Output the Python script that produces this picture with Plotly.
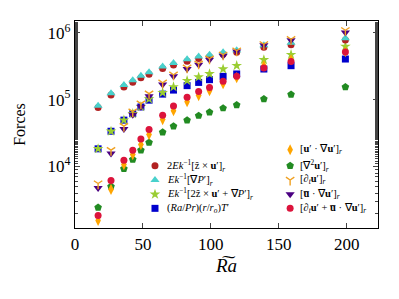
import plotly.graph_objects as go

ra = [17, 26.5, 36, 42.5, 48.5, 54.5, 64.5, 72.5, 82.5, 91, 99, 109, 119, 139, 159, 199]

coriolis = [7.6e4, 1.17e5, 1.54e5, 1.82e5, 2.13e5, 2.40e5, 2.93e5, 3.30e5, 3.75e5, 4.14e5, 4.39e5, 4.78e5, 5.1e5, 6.1e5, 6.6e5, 7.8e5]
pressure = [8.1e4, 1.25e5, 1.65e5, 1.95e5, 2.28e5, 2.57e5, 3.14e5, 3.53e5, 4.02e5, 4.43e5, 4.7e5, 5.1e5, 5.5e5, 6.5e5, 7.1e5, 8.3e5]
ageo = [1.84e4, 3.37e4, 4.94e4, 6.18e4, 7.86e4, 1.02e5, 1.27e5, 1.55e5, 1.92e5, 2.18e5, 2.44e5, 2.87e5, 3.22e5, 3.95e5, 4.7e5, 6.25e5]
buoy = [1.84e4, 3.37e4, 4.94e4, 6.18e4, 7.78e4, 9.83e4, 1.21e5, 1.39e5, 1.62e5, 1.81e5, 1.99e5, 2.23e5, 2.42e5, 2.87e5, 3.22e5, 4.05e5]
nonlin = [1.56e3, 4.54e3, 1.07e4, 1.51e4, 2.13e4, 3.0e4, 5.03e4, 6.85e4, 9.33e4, 1.15e5, 1.36e5, 1.73e5, 2.13e5, 3.22e5, 3.95e5, 5.2e5]
visc = [2.44e3, 5.03e3, 9.27e3, 1.27e4, 1.75e4, 2.28e4, 3.25e4, 4.0e4, 4.91e4, 5.77e4, 6.46e4, 7.47e4, 8.33e4, 1.02e5, 1.19e5, 1.55e5]
dtu = [5.57e3, 1.76e4, 4.02e4, 6.62e4, 8.72e4, 1.23e5, 1.79e5, 2.36e5, 3.0e5, 3.44e5, 4.09e5, 4.69e5, 5.39e5, 6.73e5, 8.0e5, 1.09e6]
meanadv = [4.78e3, 1.56e4, 3.63e4, 5.97e4, 7.86e4, 1.12e5, 1.68e5, 2.23e5, 2.87e5, 3.33e5, 3.95e5, 4.54e5, 5.26e5, 6.51e5, 7.73e5, 1.01e6]
inertia = [1.86e3, 6.18e3, 1.24e4, 1.75e4, 2.59e4, 3.57e4, 5.87e4, 8.05e4, 1.09e5, 1.32e5, 1.52e5, 1.88e5, 2.23e5, 2.97e5, 3.73e5, 5.15e5]

ytick_vals = [1e4, 1e5, 1e6]
ytick_text = ["10<sup>4</sup>", "10<sup>5</sup>", "10<sup>6</sup>"]
xtick_vals = [0, 50, 100, 150, 200]

R = "<sub><i>r</i></sub>"
U = "<b>u</b>′"
UBAR = "<b>u̅</b>"
labels = {
    "A": "2<i>Ek</i><sup>−1</sup>[ẑ × " + U + "]" + R,
    "B": "<i>Ek</i><sup>−1</sup>[∇<i>P</i>′]" + R,
    "C": "<i>Ek</i><sup>−1</sup>[2ẑ × " + U + " + ∇<i>P</i>′]" + R,
    "D": "(<i>Ra</i>/<i>Pr</i>)(<i>r</i>/<i>r</i><sub><i>o</i></sub>)<i>T</i>′",
    "E": "[" + U + " · ∇" + U + "]" + R,
    "F": "[∇<sup>2</sup>" + U + "]" + R,
    "G": "[∂<sub><i>t</i></sub>" + U + "]" + R,
    "H": "[" + UBAR + " · ∇" + U + "]" + R,
    "I": "[∂<sub><i>t</i></sub>" + U + " + " + UBAR + " · ∇" + U + "]" + R,
}

styles = {
    "A": dict(symbol="circle", color="#b22222", size=7),
    "B": dict(symbol="triangle-up", color="#48d1cc", size=8),
    "C": dict(symbol="star", color="#9acd32", size=8),
    "D": dict(symbol="square", color="#0000cd", size=7),
    "E": dict(symbol="diamond-tall", color="#ffa500", size=8),
    "F": dict(symbol="pentagon", color="#228b22", size=8),
    "G": dict(symbol="y-down-open", color="#f0a020", size=7),
    "H": dict(symbol="triangle-down", color="#4b0082", size=8),
    "I": dict(symbol="circle", color="#dc143c", size=7),
}

# legend layout (fractions of the plot area)
legend_cols = [
    (["A", "B", "C", "D"], 0.264, 0.297, [0.301, 0.232, 0.163, 0.095]),
    (["E", "F", "G", "H", "I"], 0.710, 0.737, [0.378, 0.301, 0.232, 0.163, 0.095]),
]

fig = go.Figure()

def marker_of(key):
    s = styles[key]
    m = dict(symbol=s["symbol"], color=s["color"], size=s["size"], line=dict(width=0))
    if s["symbol"].startswith("y-"):
        m["line"] = dict(width=1.4, color=s["color"])
    return m

series = [("D", buoy), ("C", ageo), ("A", coriolis), ("B", pressure), ("F", visc),
          ("E", nonlin), ("I", inertia), ("H", meanadv), ("G", dtu)]
for key, y in series:
    fig.add_trace(go.Scatter(x=ra, y=y, mode="markers", name=labels[key],
                             marker=marker_of(key), showlegend=False))

serif = "Liberation Serif"
for keys, mx, tx, ys in legend_cols:
    for key, yy in zip(keys, ys):
        fig.add_trace(go.Scatter(x=[mx], y=[yy], mode="markers", xaxis="x2", yaxis="y2",
                                 marker=marker_of(key), showlegend=False, hoverinfo="skip"))
        fig.add_annotation(x=tx, y=yy, xref="x2", yref="y2", text=labels[key],
                           showarrow=False, xanchor="left", yanchor="middle",
                           font=dict(size=10.5, family=serif, color="black"))

fig.update_layout(
    width=399, height=299,
    margin=dict(l=67, r=29, t=13, b=79, autoexpand=False),
    plot_bgcolor="white", paper_bgcolor="white",
    font=dict(family=serif, size=16, color="black"),
    showlegend=False,
    xaxis2=dict(overlaying="x", range=[0, 1], visible=False, fixedrange=True),
    yaxis2=dict(overlaying="y", range=[0, 1], visible=False, fixedrange=True),
)
fig.update_xaxes(selector=dict(anchor="y"))
fig.update_layout(
    xaxis=dict(range=[0, 223], tickvals=xtick_vals, ticks="inside", ticklen=5,
               showline=True, linecolor="black", linewidth=1.2, mirror="allticks",
               showgrid=False, zeroline=False, tickfont=dict(size=17),
               title=dict(text="<i>R͠a</i>", font=dict(size=19), standoff=6)),
    yaxis=dict(type="log", range=[3.081, 6.176], tickvals=ytick_vals, ticktext=ytick_text,
               ticks="inside", ticklen=5, showline=True, linecolor="black", linewidth=1.2,
               mirror="allticks", showgrid=False, zeroline=False, tickfont=dict(size=17),
               minor=dict(ticks="inside", ticklen=3, showgrid=False),
               title=dict(text="Forces", font=dict(size=16), standoff=17)),
)

fig.write_html("out.html")
